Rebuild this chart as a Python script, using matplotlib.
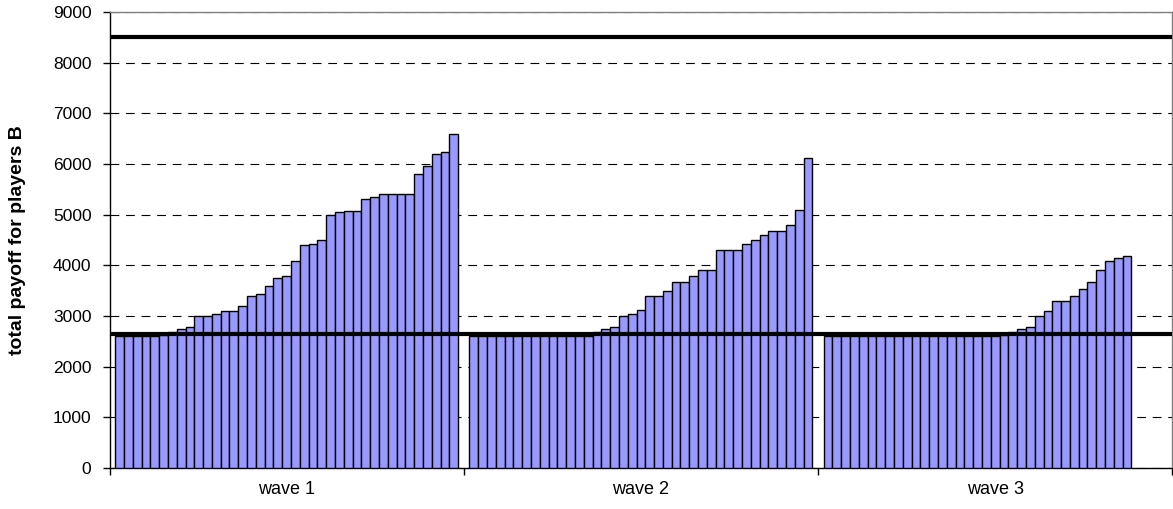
import numpy as np
import matplotlib.pyplot as plt

plt.rcParams['font.family'] = ['Liberation Sans', 'DejaVu Sans']

waves = ['wave 1', 'wave 2', 'wave 3']

# sorted total payoffs of players B, one bar per player
wave1 = [2600, 2600, 2600, 2600, 2600, 2620, 2690, 2740, 2780, 3000,
         3000, 3030, 3100, 3100, 3190, 3400, 3430, 3600, 3750, 3780,
         4090, 4400, 4430, 4500, 5000, 5050, 5080, 5080, 5300, 5340,
         5400, 5400, 5400, 5400, 5800, 5960, 6200, 6240, 6600]
wave2 = [2600, 2600, 2600, 2600, 2600, 2600, 2600, 2600, 2600, 2600,
         2600, 2600, 2600, 2600, 2690, 2740, 2780, 3000, 3030, 3120,
         3400, 3400, 3490, 3680, 3680, 3780, 3900, 3900, 4300, 4300,
         4300, 4430, 4500, 4590, 4680, 4680, 4800, 5090, 6120]
wave3 = [2600, 2600, 2600, 2600, 2600, 2600, 2600, 2600, 2600, 2600,
         2600, 2600, 2600, 2600, 2600, 2600, 2600, 2600, 2600, 2600,
         2620, 2690, 2740, 2780, 3000, 3100, 3290, 3290, 3400, 3530,
         3680, 3900, 4090, 4150, 4190]

upper_line = 8500
lower_line = 2650

fig = plt.figure(figsize=(11.73, 5.09), dpi=100)
ax = fig.add_axes([109.5/1173, 41/509, 1062.8/1173, 456/509])

n_slots = 39
slot = 0.02482
offset = (1 - n_slots*slot)/2

for i, vals in enumerate([wave1, wave2, wave3]):
    x = i + offset + slot*(np.arange(len(vals)) + 0.5)
    ax.bar(x, vals, width=slot, color='#9999FF', edgecolor='black',
           linewidth=1.0, zorder=3)

ax.axhline(upper_line, color='black', linewidth=3.0, zorder=4)
ax.axhline(lower_line, color='black', linewidth=3.0, zorder=4)

ax.set_xlim(0, 3)
ax.set_ylim(0, 9000)
ax.set_yticks(np.arange(0, 9001, 1000))
ax.grid(axis='y', color='black', linewidth=0.8, linestyle=(0, (7.9, 6.1)), zorder=1)

ax.set_xticks([0, 1, 2, 3])
ax.set_xticklabels([])
ax.set_xticks([0.5, 1.5, 2.5], minor=True)
ax.set_xticklabels(waves, minor=True)
ax.tick_params(axis='x', which='minor', length=0, pad=9, labelsize=13)
ax.tick_params(axis='x', which='major', length=5, width=1, direction='out')
ax.tick_params(axis='y', length=5, width=1, direction='out', pad=8, labelsize=12.5)

for s in ['left', 'bottom']:
    ax.spines[s].set_color('black')
    ax.spines[s].set_linewidth(1.0)
for s in ['top', 'right']:
    ax.spines[s].set_color('#808080')
    ax.spines[s].set_linewidth(1.0)

ax.set_ylabel('total payoff for players B', fontsize=14, fontweight='bold')
ax.yaxis.set_label_coords(-0.079, 0.5)

fig.savefig('out.png', dpi=100)
